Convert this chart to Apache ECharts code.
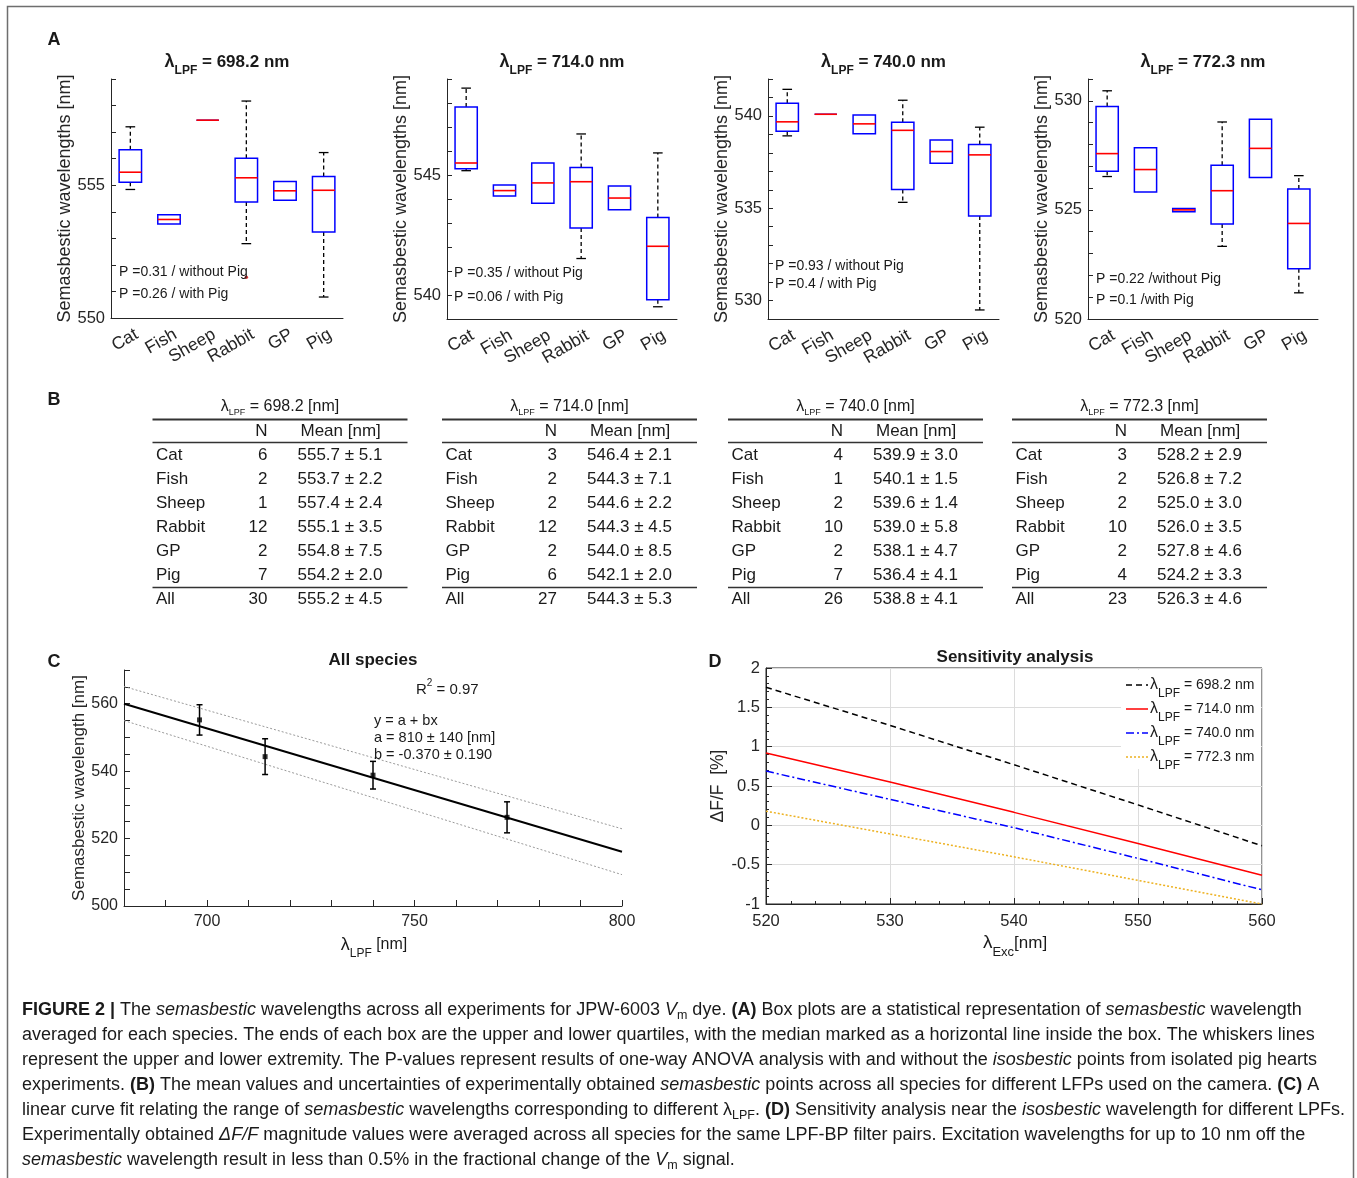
<!DOCTYPE html>
<html><head><meta charset="utf-8">
<script src="https://cdn.jsdelivr.net/npm/echarts@6/dist/echarts.min.js"></script>
<style>html,body{margin:0;padding:0;background:#fff}#c{width:1357px;height:1178px}</style>
</head><body><div id="c"></div>
<script>
const FONT = '"Liberation Sans", Arial, Helvetica, sans-serif';
const TXT = '#1a1a1a';
const AX = '#262626';

// ---------- Panel A data ----------
const species = ['Cat','Fish','Sheep','Rabbit','GP','Pig'];
const lpfLabels = ['698.2','714.0','740.0','772.3'];
// [lowWhisker, q1, median, q3, highWhisker]
const box698 = [[554.84,555.11,555.49,556.34,557.2],[553.54,553.54,553.71,553.89,553.89],[557.45,557.45,557.45,557.45,557.45],[552.8,554.37,555.28,556.02,558.17],[554.43,554.43,554.79,555.14,555.14],[550.79,553.24,554.81,555.33,556.23]];
const box714 = [[545.18,545.26,545.5,547.83,548.62],[544.12,544.12,544.35,544.58,544.58],[543.82,543.82,544.67,545.5,545.5],[541.52,542.79,544.72,545.31,546.71],[543.55,543.55,544.04,544.54,544.54],[539.51,539.8,542.03,543.23,545.92]];
const box740 = [[538.92,539.17,539.68,540.69,541.44],[540.09,540.09,540.09,540.09,540.09],[539.03,539.03,539.57,540.05,540.05],[535.32,536.01,539.22,539.66,540.85],[537.44,537.44,538.07,538.7,538.7],[529.49,534.58,537.89,538.45,539.39]];
const box772 = [[526.53,526.77,527.58,529.74,530.46],[525.82,525.82,526.85,527.85,527.85],[524.92,524.92,525.0,525.06,525.06],[523.33,524.35,525.88,527.05,529.03],[526.48,526.48,527.82,529.15,529.15],[521.2,522.3,524.38,525.96,526.57]];
const outlier698 = [[3, 551.53]];
const yLimA = [[550,559],[539,549],[529,542],[520,531]];
const pTexts = [['P =0.31 / without Pig','P =0.26 / with Pig'],['P =0.35 / without Pig','P =0.06 / with Pig'],['P =0.93 / without Pig','P =0.4 / with Pig'],['P =0.22 /without Pig','P =0.1 /with Pig']];

// ---------- Panel B data ----------
const tableRows = ['Cat','Fish','Sheep','Rabbit','GP','Pig','All'];
const tableN = [[6,2,1,12,2,7,30],[3,2,2,12,2,6,27],[4,1,2,10,2,7,26],[3,2,2,10,2,4,23]];
const tableMean = [
 ['555.7 ± 5.1','553.7 ± 2.2','557.4 ± 2.4','555.1 ± 3.5','554.8 ± 7.5','554.2 ± 2.0','555.2 ± 4.5'],
 ['546.4 ± 2.1','544.3 ± 7.1','544.6 ± 2.2','544.3 ± 4.5','544.0 ± 8.5','542.1 ± 2.0','544.3 ± 5.3'],
 ['539.9 ± 3.0','540.1 ± 1.5','539.6 ± 1.4','539.0 ± 5.8','538.1 ± 4.7','536.4 ± 4.1','538.8 ± 4.1'],
 ['528.2 ± 2.9','526.8 ± 7.2','525.0 ± 3.0','526.0 ± 3.5','527.8 ± 4.6','524.2 ± 3.3','526.3 ± 4.6']
];

// ---------- Panel C data ----------
const allLPF = [698.2, 714.0, 740.0, 772.3];
const allMean = [555.2, 544.3, 538.8, 526.3];
const allErr = [4.5, 5.3, 4.1, 4.6];
const fitLine = [[680, 560.0], [800, 516.1]];
const bandUpper = [[680, 565.1], [800, 522.9]];
const bandLower = [[680, 555.0], [800, 509.3]];

// ---------- Panel D data ----------
const excX = [520, 530, 540, 550, 560];
const dF698 = [1.755, 1.27, 0.77, 0.26, -0.26];
const dF714 = [0.92, 0.55, 0.165, -0.23, -0.635];
const dF740 = [0.69, 0.33, -0.03, -0.42, -0.82];
const dF772 = [0.18, -0.11, -0.40, -0.70, -1.0];

// ---------- Caption ----------
const captionLines = [
 [['b','FIGURE 2 |'],['n',' The '],['i','semasbestic'],['n',' wavelengths across all experiments for JPW-6003 '],['i','V'],['s','m'],['n',' dye. '],['b','(A)'],['n',' Box plots are a statistical representation of '],['i','semasbestic'],['n',' wavelength']],
 [['n','averaged for each species. The ends of each box are the upper and lower quartiles, with the median marked as a horizontal line inside the box. The whiskers lines']],
 [['n','represent the upper and lower extremity. The P-values represent results of one-way ANOVA analysis with and without the '],['i','isosbestic'],['n',' points from isolated pig hearts']],
 [['n','experiments. '],['b','(B)'],['n',' The mean values and uncertainties of experimentally obtained '],['i','semasbestic'],['n',' points across all species for different LFPs used on the camera. '],['b','(C)'],['n',' A']],
 [['n','linear curve fit relating the range of '],['i','semasbestic'],['n',' wavelengths corresponding to different λ'],['s','LPF'],['n','. '],['b','(D)'],['n',' Sensitivity analysis near the '],['i','isosbestic'],['n',' wavelength for different LPFs.']],
 [['n','Experimentally obtained '],['i','ΔF/F'],['n',' magnitude values were averaged across all species for the same LPF-BP filter pairs. Excitation wavelengths for up to 10 nm off the']],
 [['i','semasbestic'],['n',' wavelength result in less than 0.5% in the fractional change of the '],['i','V'],['s','m'],['n',' signal.']]
];

// ================= build =================
function tok(o){ return Object.assign({fontFamily: FONT, fill: TXT, color: TXT}, o); }
function richSet(main, sub, lineH, subLH, bold, lam){
  const w = bold ? 'bold' : 'normal';
  return {
    n: tok({fontSize: main, fontWeight: w, lineHeight: lineH, verticalAlign: 'middle'}),
    l: tok({fontSize: lam || main, fontWeight: w, lineHeight: lineH, verticalAlign: 'middle'}),
    s: tok({fontSize: sub, fontWeight: w, lineHeight: subLH, verticalAlign: 'bottom'}),
    u: tok({fontSize: sub, fontWeight: w, lineHeight: subLH, verticalAlign: 'top'})
  };
}
function T(x, y, text, rich, align, z){
  return {
    type: 'text', x: x, y: y, silent: true, z: z || 10,
    style: {text: text, rich: rich, align: align || 'left', textAlign: align || 'left',
      verticalAlign: 'middle', textVerticalAlign: 'middle', fontFamily: FONT, fill: TXT}
  };
}
function plain(x, y, text, size, align, weight){
  return T(x, y, '{n|' + text + '}', {n: tok({fontSize: size, fontWeight: weight || 'normal', lineHeight: size + 4, verticalAlign: 'middle'})}, align);
}

const aGrids = [
  {left: 111, top: 79, width: 232, height: 239},
  {left: 447, top: 79, width: 230, height: 240},
  {left: 768, top: 79, width: 231, height: 240},
  {left: 1088, top: 79, width: 230, height: 240}
];
const boxes = [box698, box714, box740, box772];

const grids = aGrids.map(g => Object.assign({containLabel: false}, g));
grids.push({left: 124, top: 670, width: 498, height: 236});
grids.push({left: 766, top: 668, width: 496, height: 236, show: true, borderColor: AX, borderWidth: 1, backgroundColor: 'transparent'});

const xAxes = [], yAxes = [], series = [];

function boxRender(params, api){
  const idx = api.value(0);
  const v = [api.value(1), api.value(2), api.value(3), api.value(4), api.value(5)];
  const p = v.map(val => api.coord([idx, val]));
  const band = api.size([1, 0])[0];
  const cx = p[2][0];
  const hw = band * 0.29, cw = band * 0.125;
  const ch = [];
  const dash = {stroke: '#000', lineWidth: 1.3, lineDash: [4, 3], fill: null};
  const solid = {stroke: '#000', lineWidth: 1.3, fill: null};
  if (v[4] > v[3]) {
    ch.push({type: 'line', shape: {x1: cx, y1: p[3][1], x2: cx, y2: p[4][1]}, style: dash});
    ch.push({type: 'line', shape: {x1: cx - cw, y1: p[4][1], x2: cx + cw, y2: p[4][1]}, style: solid});
  }
  if (v[0] < v[1]) {
    ch.push({type: 'line', shape: {x1: cx, y1: p[1][1], x2: cx, y2: p[0][1]}, style: dash});
    ch.push({type: 'line', shape: {x1: cx - cw, y1: p[0][1], x2: cx + cw, y2: p[0][1]}, style: solid});
  }
  ch.push({type: 'rect', shape: {x: cx - hw, y: p[3][1], width: 2 * hw, height: Math.max(0, p[1][1] - p[3][1])},
    style: {fill: 'none', stroke: '#0000ff', lineWidth: 1.5}});
  ch.push({type: 'line', shape: {x1: cx - hw, y1: p[2][1], x2: cx + hw, y2: p[2][1]}, style: {stroke: '#ff0000', lineWidth: 1.6}});
  return {type: 'group', children: ch};
}

for (let i = 0; i < 4; i++) {
  xAxes.push({
    gridIndex: i, type: 'category', data: species, boundaryGap: true,
    axisLine: {lineStyle: {color: AX, width: 1}},
    axisTick: {inside: true, alignWithLabel: true, length: 5, lineStyle: {color: AX}},
    axisLabel: {rotate: 30, fontSize: 17.5, color: AX, fontFamily: FONT, margin: 4, interval: 0,
      verticalAlign: 'top', lineHeight: 26},
    splitLine: {show: false}
  });
  yAxes.push({
    gridIndex: i, type: 'value', min: yLimA[i][0], max: yLimA[i][1], interval: 1,
    axisLine: {show: true, lineStyle: {color: AX, width: 1}},
    axisTick: {show: true, inside: true, length: 5, lineStyle: {color: AX}},
    axisLabel: {formatter: v => (Math.round(v) % 5 === 0 ? String(Math.round(v)) : ''), fontSize: 16.5, color: AX, fontFamily: FONT, margin: 6, showMaxLabel: true},
    splitLine: {show: false},
    name: 'Semasbestic wavelengths [nm]', nameLocation: 'middle', nameGap: 36,
    nameTextStyle: {fontSize: 18, color: AX, fontFamily: FONT}
  });
  series.push({
    type: 'custom', xAxisIndex: i, yAxisIndex: i, renderItem: boxRender, silent: true,
    encode: {x: 0, y: [1, 2, 3, 4, 5]},
    data: boxes[i].map((b, k) => [k].concat(b)), z: 5
  });
}
series.push({type: 'scatter', xAxisIndex: 0, yAxisIndex: 0, data: outlier698, symbol: 'circle', symbolSize: 3.5,
  itemStyle: {color: '#d00000'}, silent: true, z: 6});

// Panel C axes
xAxes.push({
  gridIndex: 4, type: 'value', min: 680, max: 800, interval: 10,
  axisLine: {onZero: false, lineStyle: {color: AX}}, axisTick: {inside: true, length: 6, lineStyle: {color: AX}},
  axisLabel: {formatter: v => (v % 50 === 0 ? String(v) : ''), fontSize: 16, color: AX, fontFamily: FONT, margin: 8},
  splitLine: {show: false}
});
yAxes.push({
  gridIndex: 4, type: 'value', min: 500, max: 570, interval: 5,
  axisLine: {show: true, onZero: false, lineStyle: {color: AX}}, axisTick: {show: true, inside: true, length: 6, lineStyle: {color: AX}},
  axisLabel: {formatter: v => (v % 20 === 0 ? String(v) : ''), fontSize: 16, color: AX, fontFamily: FONT, margin: 6},
  splitLine: {show: false},
  name: 'Semasbestic wavelength [nm]', nameLocation: 'middle', nameGap: 36,
  nameTextStyle: {fontSize: 17, color: AX, fontFamily: FONT}
});
series.push({type: 'line', xAxisIndex: 4, yAxisIndex: 4, data: bandUpper, showSymbol: false, silent: true,
  lineStyle: {color: '#9a9a9a', width: 1, type: [2, 2]}});
series.push({type: 'line', xAxisIndex: 4, yAxisIndex: 4, data: bandLower, showSymbol: false, silent: true,
  lineStyle: {color: '#9a9a9a', width: 1, type: [2, 2]}});
series.push({type: 'line', xAxisIndex: 4, yAxisIndex: 4, data: fitLine, showSymbol: false, silent: true,
  lineStyle: {color: '#000', width: 2}});
series.push({type: 'custom', xAxisIndex: 4, yAxisIndex: 4, silent: true, z: 6,
  encode: {x: 0, y: 1},
  data: allLPF.map((x, i) => [x, allMean[i], allErr[i]]),
  renderItem: function(params, api){
    const x = api.value(0), m = api.value(1), e = api.value(2);
    const t = api.coord([x, m + e]), b = api.coord([x, m - e]);
    const cw = 3;
    const st = {stroke: '#000', lineWidth: 1.5};
    return {type: 'group', children: [
      {type: 'line', shape: {x1: t[0], y1: t[1], x2: b[0], y2: b[1]}, style: st},
      {type: 'line', shape: {x1: t[0] - cw, y1: t[1], x2: t[0] + cw, y2: t[1]}, style: st},
      {type: 'line', shape: {x1: b[0] - cw, y1: b[1], x2: b[0] + cw, y2: b[1]}, style: st}
    ]};
  }
});
series.push({type: 'scatter', xAxisIndex: 4, yAxisIndex: 4, silent: true, z: 7,
  data: allLPF.map((x, i) => [x, allMean[i]]), symbol: 'rect', symbolSize: 5, itemStyle: {color: '#000'}});

// Panel D axes
xAxes.push({
  gridIndex: 5, type: 'value', min: 520, max: 560, interval: 10,
  axisLine: {onZero: false, lineStyle: {color: AX}}, axisTick: {inside: true, length: 6, lineStyle: {color: AX}},
  minorTick: {show: true, splitNumber: 5, length: 3, lineStyle: {color: AX}},
  axisLabel: {fontSize: 16.5, color: AX, fontFamily: FONT, margin: 9},
  splitLine: {show: true, lineStyle: {color: '#dcdcdc', width: 1}}
});
yAxes.push({
  gridIndex: 5, type: 'value', min: -1, max: 2, interval: 0.5,
  axisLine: {show: true, onZero: false, lineStyle: {color: AX}}, axisTick: {show: true, inside: true, length: 6, lineStyle: {color: AX}},
  minorTick: {show: true, splitNumber: 5, length: 3, lineStyle: {color: AX}},
  axisLabel: {formatter: v => String(v), fontSize: 16.5, color: AX, fontFamily: FONT, margin: 6},
  splitLine: {show: true, lineStyle: {color: '#dcdcdc', width: 1}},
  name: 'ΔF/F  [%]', nameLocation: 'middle', nameGap: 38,
  nameTextStyle: {fontSize: 17.5, color: AX, fontFamily: FONT}
});
const dSeries = [dF698, dF714, dF740, dF772];
const dStyles = [
  {color: '#000000', type: [6, 4]},
  {color: '#ff0000', type: 'solid'},
  {color: '#0000ff', type: [8, 3, 2, 3]},
  {color: '#edb120', type: [2, 2]}
];
dSeries.forEach((arr, i) => {
  series.push({type: 'line', xAxisIndex: 5, yAxisIndex: 5, showSymbol: false, silent: true,
    data: excX.map((x, k) => [x, arr[k]]),
    lineStyle: {color: dStyles[i].color, width: 1.5, type: dStyles[i].type}});
});

// ---------- graphics ----------
const G = [];
// border
G.push({type: 'rect', shape: {x: 7.5, y: 6.5, width: 1346, height: 1200}, style: {fill: 'none', stroke: '#6e6e6e', lineWidth: 1.5}, silent: true});
// panel letters
[['A', 54, 40], ['B', 54, 400], ['C', 54, 662], ['D', 715, 662]].forEach(a => G.push(plain(a[1], a[2], a[0], 18, 'center', 'bold')));

// A titles and p-values
const richTitle = richSet(17, 12, 29, 12, true, 18);
const pY = [[272, 294], [273, 297], [266.5, 284.5], [279, 300]];
const pX = [119, 454, 775, 1096];
for (let i = 0; i < 4; i++) {
  const g = aGrids[i];
  G.push(T(g.left + g.width / 2, 62, '{l|λ}{s|LPF}{n| = ' + lpfLabels[i] + ' nm}', richTitle, 'center'));
  G.push(plain(pX[i], pY[i][0], pTexts[i][0], 14, 'left'));
  G.push(plain(pX[i], pY[i][1], pTexts[i][1], 14, 'left'));
}

// B tables
const tblLeft = [152.5, 442, 728, 1012];
const tblW = 255;
const rowY = [455, 479, 503, 527, 551, 575, 599.5];
const richTbl = richSet(16, 9, 20, 12, false, 16);
for (let t = 0; t < 4; t++) {
  const L = tblLeft[t];
  G.push(T(L + tblW / 2, 407, '{l|λ}{s|LPF}{n| = ' + lpfLabels[t] + ' [nm]}', richTbl, 'center'));
  G.push({type: 'line', silent: true, shape: {x1: L, y1: 419.5, x2: L + tblW, y2: 419.5}, style: {stroke: '#333', lineWidth: 2}});
  G.push({type: 'line', silent: true, shape: {x1: L, y1: 442.5, x2: L + tblW, y2: 442.5}, style: {stroke: '#333', lineWidth: 1.5}});
  G.push({type: 'line', silent: true, shape: {x1: L, y1: 587.5, x2: L + tblW, y2: 587.5}, style: {stroke: '#333', lineWidth: 1.5}});
  G.push(plain(L + 115, 431, 'N', 17, 'right'));
  G.push(plain(L + 148, 431, 'Mean [nm]', 17, 'left'));
  for (let r = 0; r < tableRows.length; r++) {
    G.push(plain(L + 3.5, rowY[r], tableRows[r], 17, 'left'));
    G.push(plain(L + 115, rowY[r], String(tableN[t][r]), 17, 'right'));
    G.push(plain(L + 145, rowY[r], tableMean[t][r], 17, 'left'));
  }
}

// C texts
G.push(plain(373, 660, 'All species', 17, 'center', 'bold'));
G.push(T(416, 690, '{n|R}{u|2}{n| = 0.97}', richSet(15, 10, 24, 10, false), 'left'));
G.push(plain(374, 721, 'y = a + bx', 14.5, 'left'));
G.push(plain(374, 738, 'a = 810 ± 140 [nm]', 14.5, 'left'));
G.push(plain(374, 755, 'b = -0.370 ± 0.190', 14.5, 'left'));
G.push(T(374, 945, '{l|λ}{s|LPF}{n| [nm]}', richSet(16, 12, 30, 12, false, 18), 'center'));

// D texts
G.push(plain(1015, 657, 'Sensitivity analysis', 17, 'center', 'bold'));
G.push(T(1015, 943, '{l|λ}{s|Exc}{n|[nm]}', richSet(17, 13, 32, 13, false, 19), 'center'));
// legend background (white box, no border)
G.push({type: 'rect', silent: true, z: 50, shape: {x: 1121, y: 670, width: 140, height: 99}, style: {fill: '#ffffff', stroke: null}});
const legY = [685, 709, 733, 757];
for (let i = 0; i < 4; i++) {
  const st = {stroke: dStyles[i].color, lineWidth: 1.5};
  if (Array.isArray(dStyles[i].type)) st.lineDash = dStyles[i].type;
  G.push({type: 'line', silent: true, z: 100, shape: {x1: 1126, y1: legY[i], x2: 1148, y2: legY[i]}, style: st});
  G.push(T(1150, legY[i], '{l|λ}{s|LPF}{n| = ' + lpfLabels[i] + ' nm}', richSet(14, 12, 30, 12, false, 16), 'left', 100));
}

// caption
const CS = 18.0;
const capRich = {
  n: tok({fontSize: CS, lineHeight: 24, verticalAlign: 'middle'}),
  i: tok({fontSize: CS, fontStyle: 'italic', lineHeight: 24, verticalAlign: 'middle'}),
  b: tok({fontSize: CS, fontWeight: 'bold', lineHeight: 24, verticalAlign: 'middle'}),
  s: tok({fontSize: 12.5, lineHeight: 14, verticalAlign: 'bottom'})
};
const capY = [1010, 1035, 1060, 1085, 1110, 1135, 1160];
captionLines.forEach((line, k) => {
  const txt = line.map(seg => '{' + seg[0] + '|' + seg[1] + '}').join('');
  G.push(T(22, capY[k], txt, capRich, 'left'));
});

const option = {
  animation: false,
  backgroundColor: '#ffffff',
  grid: grids,
  xAxis: xAxes,
  yAxis: yAxes,
  series: series,
  graphic: {elements: G}
};
const chart = echarts.init(document.getElementById('c'), null, {renderer: 'canvas', width: 1357, height: 1178});
chart.setOption(option);
</script>
</body></html>
